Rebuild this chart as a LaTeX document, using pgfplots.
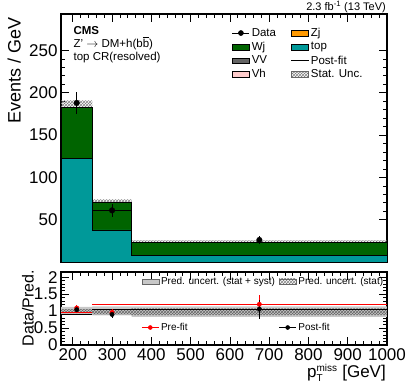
\documentclass[border=0pt]{standalone}
\usepackage{fontspec}
\setmainfont{Liberation Sans}
\usepackage{pgfplots}
\pgfplotsset{compat=1.18}
\usepgfplotslibrary{fillbetween}
\usetikzlibrary{patterns}

\definecolor{wjgreen}{RGB}{0,100,0}
\definecolor{topteal}{RGB}{0,153,153}
\definecolor{zjorange}{RGB}{255,153,0}
\definecolor{vvgray}{RGB}{100,100,100}
\definecolor{vhpink}{RGB}{255,204,204}
\definecolor{bandgray}{RGB}{200,200,200}

\pgfplotsset{
  cmsaxis/.style={
    scale only axis, width=326pt,
    xmin=170, xmax=1000,
    xtick={200,300,...,1000}, minor x tick num=4,
    axis line style={line width=1.2pt},
    major tick length=8pt, minor tick length=4pt,
    every tick/.style={black, line width=0.6pt},
    tick label style={font=\fontsize{17}{17}\selectfont},
    /pgf/number format/assume math mode=true,
    /pgf/number format/1000 sep={},
  }
}

\begin{document}
\begin{tikzpicture}

% ---- main panel
\begin{axis}[cmsaxis, name=top, at={(61pt,-14pt)}, anchor=north west,
  height=248pt, ymin=0, ymax=293,
  ytick={50,100,...,250}, minor y tick num=4,
  xticklabels={},
  legend style={at={(rel axis cs:0.515,0.96)}, anchor=north west, draw=none, fill=none,
    font=\fontsize{11.5}{13}\selectfont, legend columns=2, row sep=0pt,
    /tikz/every even column/.append style={column sep=13pt}},
  legend cell align=left,
]
\addlegendimage{black, mark=*, mark size=2.5pt, line width=0.6pt}
\addlegendentry{Data}
\addlegendimage{area legend, fill=zjorange, draw=black}
\addlegendentry{Zj}
\addlegendimage{area legend, fill=wjgreen, draw=black}
\addlegendentry{Wj}
\addlegendimage{area legend, fill=topteal, draw=black}
\addlegendentry{top}
\addlegendimage{area legend, fill=vvgray, draw=black}
\addlegendentry{VV}
\addlegendimage{black, line width=0.8pt}
\addlegendentry{Post-fit}
\addlegendimage{area legend, fill=vhpink, draw=black}
\addlegendentry{Vh}
\addlegendimage{area legend, pattern=crosshatch, pattern color=gray, draw=black!60}
\addlegendentry{Stat. Unc.}

% stack: Wj on top of top
\addplot[const plot, fill=wjgreen, draw=black, line width=0.8pt, forget plot]
  coordinates {(170,183) (250,70) (350,23) (1000,23)} \closedcycle;
\addplot[const plot, fill=topteal, draw=black, line width=0.6pt, forget plot]
  coordinates {(170,122) (250,38) (350,8) (1000,8)} \closedcycle;

% stat uncertainty
\addplot[name path=up, const plot, draw=none, forget plot]
  coordinates {(170,191) (250,74) (350,25.5) (1000,25.5)};
\addplot[name path=lo, const plot, draw=none, forget plot]
  coordinates {(170,183) (250,69) (350,23) (1000,23)};
\addplot[pattern=crosshatch, pattern color=gray, forget plot] fill between[of=up and lo];

% post-fit
\addplot[const plot, black, line width=0.8pt, forget plot]
  coordinates {(170,183) (250,61) (350,23) (1000,23)};

% data
\addplot[only marks, mark=*, mark size=2.8pt, black, forget plot,
  error bars/.cd, y dir=both, y explicit, error mark=none,
  error bar style={line width=0.7pt}]
  coordinates {(210,188) +- (0,13) (300,61) +- (0,8) (675,26) +- (0,5)};

\node[anchor=north west, align=left, font=\fontsize{11.5}{13}\selectfont, inner sep=1pt]
  at (rel axis cs:0.035,0.955) {\textbf{CMS}\\Z' $\rightarrow$ DM+h(b$\overline{\mbox{b}}$)\\top CR(resolved)};
\end{axis}

\node[anchor=base east, font=\fontsize{11}{12}\selectfont, inner sep=0pt] at (386pt,-10.5pt)
  {2.3 fb\textsuperscript{-1} (13 TeV)};
\node[rotate=90, anchor=north east, font=\fontsize{18}{18}\selectfont] at (4pt,-14pt)
  {Events / GeV};

% ---- ratio panel
\begin{axis}[cmsaxis, name=bot, at={(61pt,-272pt)}, anchor=north west,
  height=73pt, ymin=0, ymax=2.15,
  ytick={0,0.5,...,2}, minor y tick num=4,
  legend style={at={(rel axis cs:0.998,0.97)}, anchor=north east, draw=none, fill=none,
    font=\fontsize{10}{11}\selectfont, legend columns=2, row sep=33pt, inner sep=1pt,
    /tikz/every even column/.append style={column sep=2pt}},
  legend cell align=left,
]
\addlegendimage{area legend, fill=bandgray, draw=black!60}
\addlegendentry{Pred. uncert. (stat + syst)}
\addlegendimage{area legend, pattern=crosshatch, pattern color=gray, draw=black!60}
\addlegendentry{Pred. uncert. (stat)}
\addlegendimage{red, mark=*, mark size=2pt, line width=0.5pt}
\addlegendentry{Pre-fit}
\addlegendimage{black, mark=*, mark size=2pt, line width=0.5pt}
\addlegendentry{Post-fit}

% stat+syst band
\addplot[name path=su, const plot, draw=none, forget plot]
  coordinates {(170,1.12) (250,1.14) (350,1.14) (1000,1.14)};
\addplot[name path=sl, const plot, draw=none, forget plot]
  coordinates {(170,0.90) (250,0.87) (350,0.83) (1000,0.83)};
\addplot[fill=bandgray, draw=none, forget plot] fill between[of=su and sl];
% stat band
\addplot[name path=tu, const plot, draw=none, forget plot]
  coordinates {(170,1.06) (250,1.05) (350,1.08) (1000,1.08)};
\addplot[name path=tl, const plot, draw=none, forget plot]
  coordinates {(170,0.94) (250,0.90) (350,0.88) (1000,0.88)};
\addplot[pattern=crosshatch, pattern color=gray!80!black, forget plot] fill between[of=tu and tl];

% pre-fit and post-fit ratio lines
\addplot[jump mark right, red, line width=0.8pt, forget plot]
  coordinates {(170,1.09) (250,0.96) (350,1.19) (1000,1.19)};
\addplot[jump mark right, black, line width=0.8pt, forget plot]
  coordinates {(170,1.03) (250,0.89) (350,1.05) (1000,1.05)};

% ratio points
\addplot[only marks, mark=*, mark size=2.2pt, red, forget plot,
  error bars/.cd, y dir=both, y explicit, error mark=none,
  error bar style={line width=0.7pt}]
  coordinates {(210,1.09) +- (0,0.08) (300,0.96) +- (0,0.11) (675,1.20) +- (0,0.28)};
\addplot[only marks, mark=*, mark size=2.2pt, black, forget plot,
  error bars/.cd, y dir=both, y explicit, error mark=none,
  error bar style={line width=0.7pt}]
  coordinates {(210,1.04) +- (0,0.07) (300,0.90) +- (0,0.10) (675,1.06) +- (0,0.28)};
\end{axis}

\node[rotate=90, anchor=center, font=\fontsize{16}{16}\selectfont] at (28pt,-308pt)
  {Data/Pred.};
\node[anchor=east, font=\fontsize{17}{17}\selectfont, inner sep=0pt] at (386pt,-373pt)
  {p$_{\mbox{\fontsize{10}{10}\selectfont T}}^{\mbox{\fontsize{10}{10}\selectfont miss}}$ [GeV]};

\pgfresetboundingbox
\useasboundingbox (0,0) rectangle (407pt,-387pt);
\end{tikzpicture}
\end{document}
